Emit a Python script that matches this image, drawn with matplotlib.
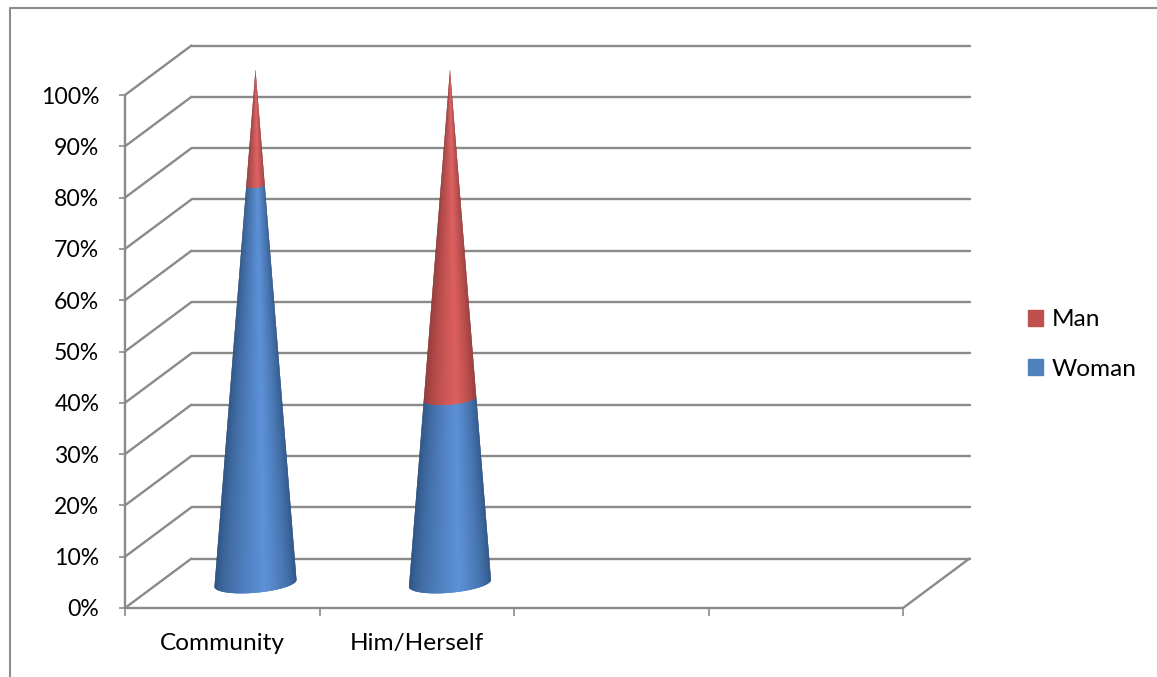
import numpy as np
import matplotlib
matplotlib.use("Agg")
import matplotlib.pyplot as plt
from matplotlib.collections import PolyCollection
from matplotlib.colors import to_rgb
from matplotlib.lines import Line2D
from matplotlib.patches import Patch

# ---- data ----
categories = ["Community", "Him/Herself", "", ""]
woman = [77.5, 36]
man = [22.5, 64]
y_ticks = list(range(0, 101, 10))
y_labels = [f"{v}%" for v in y_ticks]

# ---- style ----
W, H = 1157, 677
GRAY = "#8a8a8a"
BLUE_D, BLUE_L = "#2a4e7c", "#5d92d8"
RED_D, RED_L = "#8a3634", "#de6060"
LEG_BLUE, LEG_RED = "#4f81bd", "#c0504d"

plt.rcParams["font.family"] = ["Lato", "DejaVu Sans"]
fig = plt.figure(figsize=(W / 100, H / 100), dpi=100)
ax = fig.add_axes([125 / W, 1 - 608 / H, (903 - 125) / W, (608 - 95) / H])
n_cat = len(categories)
ax.set_xlim(0, n_cat)
ax.set_ylim(0, 100)
ax.patch.set_visible(False)
for s in ax.spines.values():
    s.set_visible(False)

px_x = n_cat / (903 - 125)   # data units per pixel
px_y = 100 / (608 - 95)
DX, DY = 66.5 * px_x, 49.5 * px_y  # depth of the 3D box

LW = 1.7
def seg(xs, ys, z=1):
    ax.plot(xs, ys, color=GRAY, lw=LW, clip_on=False, zorder=z, solid_capstyle="round")

for v in y_ticks:
    seg([0, DX], [v, v + DY])
    seg([DX, n_cat + DX], [v + DY, v + DY])
seg([0, 0], [0, 100])
seg([0, n_cat], [0, 0])
seg([n_cat, n_cat + DX], [0, DY])

# ---- cones ----
R = 41 * px_x
TILT = 3.5 * px_y
MINOR = 9.5 * px_y
theta = np.linspace(0, np.pi, 81)
PEAK = 1.35

def shade(t, dark, light):
    # t runs 0 (right edge) to pi (left edge); brightest a little right of centre
    span = (np.pi - PEAK) if t > PEAK else PEAK
    s = np.clip(1 - abs(t - PEAK) / span, 0, 1) ** 1.0
    d, l = np.array(to_rgb(dark)), np.array(to_rgb(light))
    return tuple(d + (l - d) * s)

def cone_section(cx, v0, v1, dark, light):
    polys, cols = [], []
    def pt(v, t):
        r = 1 - v / 100
        cy = v + DY / 2
        return (cx + R * r * np.cos(t), cy + r * (TILT * np.cos(t) - MINOR * np.sin(t)))
    step = theta[1] - theta[0]
    for t0 in theta[:-1]:
        t1 = min(t0 + 2.5 * step, np.pi)  # overlap hides the seams between strips
        polys.append([pt(v0, t0), *[pt(v0, t) for t in np.linspace(t0, t1, 4)[1:]],
                      *[pt(v1, t) for t in np.linspace(t1, t0, 4)]])
        cols.append(shade(t0 + step / 2, dark, light))
    ax.add_collection(PolyCollection(polys, facecolors=cols, edgecolors="none",
                                     linewidths=0, clip_on=False, zorder=3))

for i, (w, m) in enumerate(zip(woman, man)):
    cx = i + 0.5 + DX / 2
    cone_section(cx, 0, w, BLUE_D, BLUE_L)
    cone_section(cx, w, w + m, RED_D, RED_L)

# ---- axes text ----
ax.set_yticks(y_ticks, y_labels)
ax.set_xticks(range(n_cat + 1), [""] * (n_cat + 1))
ax.set_xticks(np.arange(n_cat) + 0.5, categories, minor=True)
ax.tick_params(axis="y", length=4.5, width=1.2, color=GRAY, pad=14, labelsize=16.6, labelcolor="black")
ax.tick_params(axis="x", which="major", length=6, width=1.2, color=GRAY)
ax.tick_params(axis="x", which="minor", length=0, pad=18, labelsize=17.6, labelcolor="black")

# ---- legend ----
fig.legend(handles=[Patch(color=LEG_RED, label="Man"), Patch(color=LEG_BLUE, label="Woman")],
           loc="center left", bbox_to_anchor=(1021 / W, 1 - 344.5 / H), frameon=False,
           fontsize=17.6, handlelength=0.62, handleheight=0.62, handletextpad=0.33,
           labelspacing=1.16, borderpad=0.3, borderaxespad=0)

# ---- outer chart frame ----
fig.add_artist(Line2D([10 / W, 10 / W, 1], [0, 1 - 8 / H, 1 - 8 / H], color="#8c8c8c", lw=1.5))

fig.savefig("out.png", dpi=100, facecolor="white")
